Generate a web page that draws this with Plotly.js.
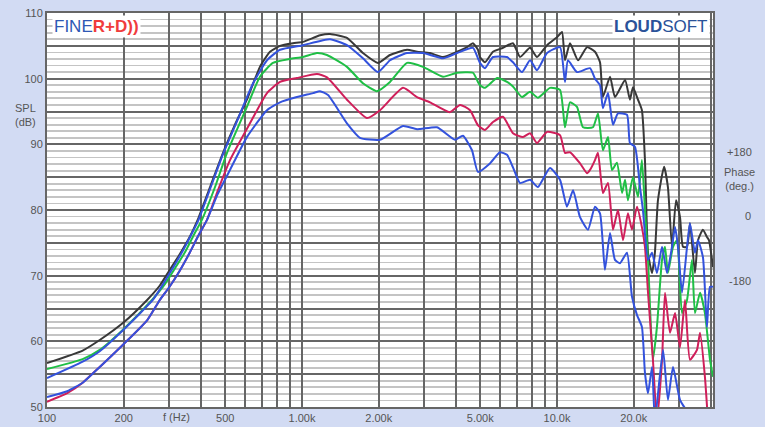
<!DOCTYPE html>
<html><head><meta charset="utf-8">
<script src="https://cdn.plot.ly/plotly-3.0.1.min.js"></script>
<style>html,body{margin:0;padding:0;background:#d2dbf3;}#c{width:765px;height:427px;}</style>
</head><body><div id="c"></div>
<script>
const freqBlack=[100,138,161,200,247,277,301,332,364,391,436,490,546,608,684,749,820,922,1009,1177,1288,1501,1734,1986,2214,2582,2825,3177,3573,4055,4436,4683,4898,4989,5220,5610,6140,6720,7161,7839,8348,9142,10000,10462,10746,11246,12089,13115,14093,14748,15136,16144,16884,18493,19320,19860,20780,21530,22130,22750,23590,24210,24890,26300,27230,28250,29300,30370,31200,32360,33230,34760,35730,37360,38730,39440,40910];
const splBlack=[56.7,58.6,60.2,62.9,66.3,68.5,70.7,73.3,76.0,78.6,83.5,88.7,93.0,96.8,101.8,104.1,105.0,105.4,105.6,106.6,106.8,106.2,103.9,102.4,103.6,104.4,104.1,103.9,103.3,104.1,104.8,105.4,104.4,103.3,102.5,104.1,104.7,105.4,103.3,104.7,103.3,105.1,106.3,107.1,102.8,105.4,102.8,104.8,104.1,102.5,97.2,100.3,97.2,99.8,96.8,98.7,96.8,95.2,87.6,73.5,70.4,73.5,81.5,86.6,83.5,74.4,81.5,78.9,74.4,74.4,78.0,70.4,75.4,77.0,75.9,75.4,71.3];

const freqBlue1=[100,138,161,200,260,277,301,332,364,391,436,490,546,643,729,820,1009,1288,1501,1734,1986,2214,2582,2982,3573,4055,4683,4898,4989,5220,5610,6368,6720,7290,7839,8348,9142,10275,10746,11040,11980,13473,14093,14748,15136,15849,16582,17344,18818,19320,20230,21160,21730,22750,23590,24660,25820,27000,28250,29040,29820,30930,32360,33230,34760,35730,37360,38730,39810,40910];
const splBlue1=[54.4,56.9,58.5,61.8,66.3,67.9,70.2,73.0,75.9,78.3,83.2,88.5,92.8,99.3,102.8,104.4,105.1,106.0,105.1,103.1,101.0,102.8,103.9,103.9,103.1,103.9,104.7,103.1,102.4,101.6,103.3,103.3,102.5,101.0,102.8,101.3,103.9,104.8,99.5,102.8,101.0,101.6,100.0,99.0,95.5,97.8,93.0,94.7,94.5,90.2,89.6,83.5,80.0,72.4,73.5,70.4,74.4,70.4,74.4,77.4,74.4,67.4,74.4,78.0,73.5,75.4,72.8,62.2,68.3,68.3];

const freqGreen=[100,138,161,200,258,290,315,348,380,405,456,508,608,684,769,897,1009,1145,1253,1501,1734,1967,2214,2582,2982,3573,4055,4683,4898,4989,5220,5821,6368,6720,7290,7839,8415,9387,10275,10746,11246,11980,12646,13837,14483,15136,15849,16432,17180,17990,18493,18978,19860,20780,21530,22130,22750,23780,24660,25820,26520,27230,28510,29560,30930,32360,33830,34760,36390,38030,39810,40910];
const splGreen=[55.8,57.3,58.7,61.9,66.3,68.7,70.9,73.6,76.5,78.5,83.5,88.7,95.7,100.3,102.4,103.0,103.3,103.9,103.6,101.8,99.3,98.1,99.5,102.4,101.8,100.3,100.9,100.9,99.5,99.0,98.6,100.1,99.5,98.8,97.2,98.0,97.1,98.6,98.3,92.6,96.4,95.7,92.6,92.6,94.7,89.1,91.1,86.1,87.2,82.6,84.6,81.5,85.0,82.0,87.6,80.0,72.4,57.2,62.2,72.4,74.4,70.4,74.4,75.4,64.3,66.3,72.4,64.3,67.4,64.3,57.2,54.6];

const freqRed=[100,120,138,161,200,247,277,301,332,364,391,424,468,522,625,729,820,955,1145,1253,1501,1798,2023,2490,2825,3177,3802,4166,4560,4898,5220,5610,6140,6720,7357,7839,8348,9142,10275,10746,11246,12312,13115,13473,14093,14483,15136,15849,16582,17344,18155,18978,19680,20600,21530,22130,22750,23780,24660,25820,26520,27740,29040,30370,31770,33230,35400,36390,38030,39080];
const splRed=[50.8,52.1,53.7,56.1,59.6,63.2,66.3,68.2,70.8,73.6,76.0,78.5,83.0,87.6,93.2,97.8,99.5,100.1,100.7,100.2,96.8,94.0,95.2,98.6,97.2,96.4,94.9,96.0,95.2,92.9,92.2,93.4,94.2,91.7,91.1,91.7,90.2,91.9,91.4,88.7,88.8,87.1,85.6,86.1,87.6,88.7,82.6,84.1,77.0,80.0,75.4,79.5,77.0,80.5,77.4,74.4,67.4,57.2,48.0,57.2,67.4,61.3,64.3,59.1,66.3,57.2,58.7,61.3,54.6,48.0];

const freqBlue2=[100,120,138,161,200,247,277,301,332,364,391,424,468,522,608,729,820,955,1104,1177,1265,1501,1688,2023,2490,2825,3384,3981,4277,4642,4898,5458,5976,6368,6720,7161,7839,8415,9387,10275,10940,11562,12312,13232,14093,14748,15414,16144,16884,17660,18818,19680,20600,21530,22130,22750,23590,24210,26060,27230,28510,30370,32360,36390,40910];
const splBlue2=[51.5,52.4,53.7,56.1,59.6,63.2,66.3,68.2,70.8,73.6,76.0,78.5,82.5,86.1,91.1,95.2,96.4,97.2,97.8,98.1,97.5,93.2,91.0,90.7,92.8,92.3,92.6,90.7,91.3,89.1,85.8,87.1,88.8,88.4,86.5,84.1,84.6,83.5,86.4,84.6,80.5,83.0,78.9,77.0,80.5,79.5,70.9,76.5,72.4,71.9,73.5,66.8,64.0,62.2,55.2,52.1,56.1,48.0,58.7,51.1,56.1,51.1,49.5,49.5,49.0];

const gridFreqs=[100,200,300,400,500,600,700,800,900,1000,2000,3000,4000,5000,6000,7000,8000,9000,10000,20000,30000,40000];
const xTickLabels={100:'100',200:'200',500:'500',1000:'1.00k',2000:'2.00k',5000:'5.00k',10000:'10.0k',20000:'20.0k'};
const yTickVals=[50,55,60,65,70,75,80,85,90,95,100,105,110];
const yTickText=['50','','60','','70','','80','','90','','100','','110'];

function tr(x,y,c){return {x:x,y:y,type:'scatter',mode:'lines',line:{color:c,width:2,shape:'spline',smoothing:0.5},hoverinfo:'skip',showlegend:false};}
const data=[
  tr(freqBlack,splBlack,'#383838'),
  tr(freqGreen,splGreen,'#1fbf45'),
  tr(freqRed,splRed,'#cf1f5a'),
  tr(freqBlue2,splBlue2,'#3352dc'),
  tr(freqBlue1,splBlue1,'#3352dc')
];
const lab={family:'Liberation Sans, Arial, sans-serif',size:11,color:'#555'};
const layout={
  width:765,height:427,
  margin:{l:47,r:52,t:13,b:20},
  paper_bgcolor:'#d2dbf3',plot_bgcolor:'#ffffff',
  font:lab,
  xaxis:{type:'log',range:[2,Math.log10(40910)],tickmode:'array',tickvals:gridFreqs,
    ticktext:gridFreqs.map(f=>xTickLabels[f]||''),ticks:'',showgrid:true,gridcolor:'#666666',gridwidth:2,
    showline:true,mirror:true,linecolor:'#666666',linewidth:2,zeroline:false,tickfont:lab,fixedrange:true},
  yaxis:{range:[50,110],tickmode:'array',tickvals:yTickVals,ticktext:yTickText,ticks:'',
    showgrid:true,gridcolor:'#666666',gridwidth:2,showline:true,mirror:true,linecolor:'#666666',linewidth:2,
    zeroline:false,tickfont:lab,
    minor:{tickmode:'linear',tick0:50,dtick:1,showgrid:true,gridcolor:'#c4c4c4',gridwidth:1.8,ticks:''},fixedrange:true},
  annotations:[
    {xref:'paper',yref:'paper',x:-0.033,y:0.742,xanchor:'center',yanchor:'middle',showarrow:false,text:'SPL<br>(dB)',font:lab},
    {xref:'paper',yref:'paper',x:0.194,y:-0.005,xanchor:'center',yanchor:'top',showarrow:false,text:'f (Hz)',font:lab},
    {xref:'paper',yref:'paper',x:1.04,y:0.648,xanchor:'center',yanchor:'middle',showarrow:false,text:'+180',font:lab},
    {xref:'paper',yref:'paper',x:1.04,y:0.578,xanchor:'center',yanchor:'middle',showarrow:false,text:'Phase<br>(deg.)',font:lab},
    {xref:'paper',yref:'paper',x:1.052,y:0.485,xanchor:'center',yanchor:'middle',showarrow:false,text:'0',font:lab},
    {xref:'paper',yref:'paper',x:1.04,y:0.32,xanchor:'center',yanchor:'middle',showarrow:false,text:'-180',font:lab},
    {xref:'paper',yref:'paper',x:0.008,y:0.995,xanchor:'left',yanchor:'top',showarrow:false,bgcolor:'#ffffff',borderpad:1,
      text:"<span style='color:#2e58b4'>FINE</span><b><span style='color:#f03c3c'>R+D))</span></b>",
      font:{family:'Liberation Sans, Arial, sans-serif',size:17,color:'#2e58b4'}},
    {xref:'paper',yref:'paper',x:0.995,y:0.995,xanchor:'right',yanchor:'top',showarrow:false,bgcolor:'#ffffff',borderpad:1,
      text:"<b>LOUD</b>SOFT",font:{family:'Liberation Sans, Arial, sans-serif',size:17,color:'#2a5299'}}
  ]
};
Plotly.newPlot('c',data,layout,{staticPlot:true,displayModeBar:false});
</script></body></html>
